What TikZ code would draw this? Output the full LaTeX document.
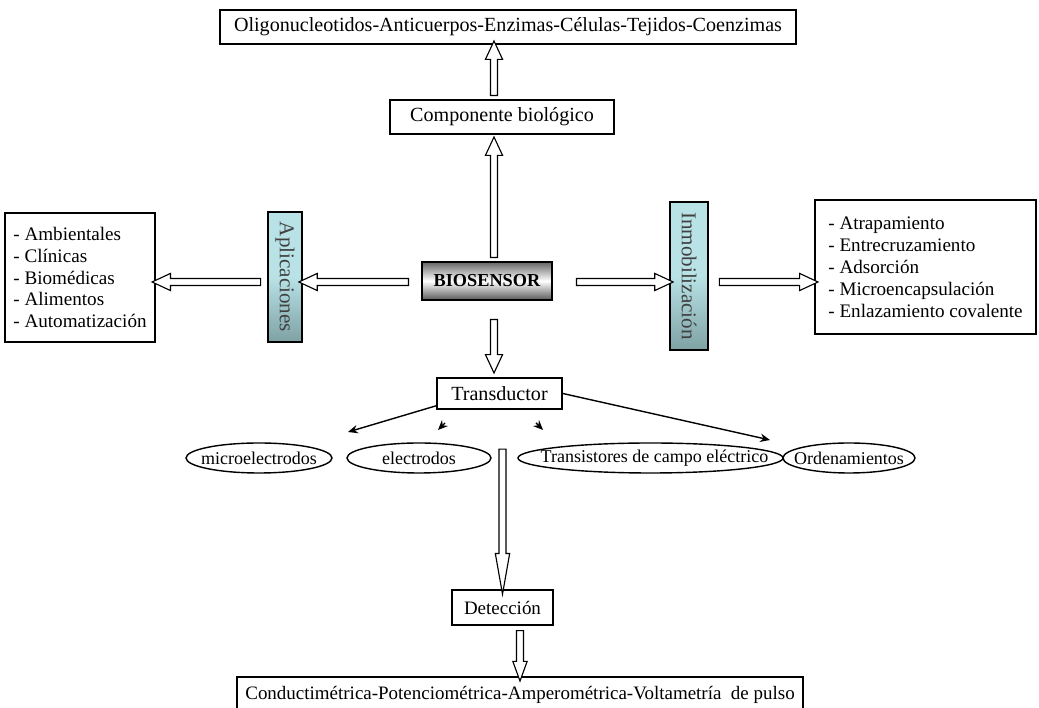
\documentclass[tikz,border=0pt]{standalone}
\usepackage{fontspec}
\setmainfont{Liberation Serif}
\usepackage{graphicx}
\usetikzlibrary{shapes,arrows.meta,positioning,calc}
\definecolor{tealpale}{RGB}{184,226,230}
\definecolor{tealdeep}{RGB}{88,118,120}

% hollow block arrow between two named points
\newcommand{\hollowarrow}[3][]{%
  \path let \p1=($(#3)-(#2)$), \n1={veclen(\x1,\y1)}, \n2={atan2(\y1,\x1)} in
    node[hollow, minimum height=\n1, rotate=\n2, #1] at ($(#2)!0.5!(#3)$) {};%
}
\newcommand{\zw}[1]{\makebox[0pt]{#1}}

\begin{document}
\begin{tikzpicture}[
    box/.style={draw, line width=1.1pt, minimum height=0.85cm, align=center, inner sep=2pt, font=\fontsize{14.3}{16}\selectfont},
    listbox/.style={draw, line width=1.1pt, align=left, inner xsep=6pt, font=\fontsize{13.6}{15.6}\selectfont},
    sidebar/.style={draw, line width=0.9pt, inner sep=0pt, top color=tealpale, bottom color=tealpale!40!tealdeep, middle color=tealpale, text=black!75, font=\fontsize{15}{17}\selectfont},
    oval/.style={ellipse, draw, line width=1pt, minimum height=0.75cm, inner sep=0pt, font=\fontsize{12.8}{14}\selectfont},
    hollow/.style={single arrow, draw, fill=white, line width=0.8pt, inner xsep=0pt, inner ysep=2.1pt, single arrow head extend=3.6pt, single arrow tip angle=50, single arrow head indent=0pt},
    link/.style={-{Stealth[length=7pt,width=6pt]}, line width=1pt}
]
\useasboundingbox (0,0) rectangle (25.975,17.7);

% Top row
\node[box, minimum width=14.4cm] (top) at (12.7,17.025) {Oligonucleotidos-Anticuerpos-Enzimas-Células-Tejidos-Coenzimas};
\node[box, minimum width=5.6cm] (comp) at (12.55,14.775) {Componente biológico};

% Center
\node[draw, line width=1pt, minimum width=3.25cm, minimum height=0.95cm, top color=black!60, bottom color=black!65, middle color=white, font=\bfseries\fontsize{13}{15}\selectfont] (bio) at (12.175,10.675) {BIOSENSOR};

% Left side
\node[sidebar, minimum width=0.85cm, minimum height=3.25cm] (aplic) at (7.125,10.775) {\rotatebox{-90}{Aplicaciones}};
\node[listbox, minimum width=3.6cm, minimum height=3.225cm] (usos) at (2.0,10.7625) {- Ambientales\\- Clínicas\\- Biomédicas\\- Alimentos\\- Automatización};

% Right side
\node[sidebar, minimum width=0.95cm, minimum height=3.7cm] (inmob) at (17.225,10.8) {\rotatebox{-90}{Inmobilización}};
\node[listbox, minimum width=5.525cm, minimum height=3.35cm] (metodos) at (23.1375,11.025) {- Atrapamiento\\- Entrecruzamiento\\- Adsorción\\- Microencapsulación\\- Enlazamiento covalente};

% Transducer and its kinds
\node[box, minimum width=3.125cm, minimum height=0.775cm] (trans) at (12.4875,7.8625) {Transductor};
\node[oval, minimum width=3.65cm] (micro) at (6.475,6.25) {\zw{microelectrodos}};
\node[oval, minimum width=3.6cm] (elec) at (10.475,6.25) {\zw{electrodos}};
\node[oval, minimum width=6.625cm] (fet) at (16.2625,6.25) {\zw{\hspace{0.2cm}Transistores de campo eléctrico}};
\node[oval, minimum width=3.3cm] (orden) at (21.225,6.25) {\zw{Ordenamientos}};

% Detection
\node[box, minimum width=2.525cm, minimum height=0.875cm, font=\fontsize{13.5}{15}\selectfont] (det) at (12.5625,2.5125) {Detección};
\node[box, minimum width=14.15cm, minimum height=0.875cm, font=\fontsize{13.5}{15}\selectfont] (tecnicas) at (13.0,0.3375) {Conductimétrica-Potenciométrica-Amperométrica-Voltametría\ \ de pulso};

% Block arrows
\coordinate (u1) at ([xshift=-2mm]comp.north);
\coordinate (u2) at (u1 |- top.south);
\hollowarrow{u1}{u2}
\coordinate (u3) at (u1 |- bio.north);
\coordinate (u4) at ($(u1 |- comp.south)+(0,-0.15)$);
\hollowarrow{u3}{u4}
\coordinate (d1) at ($(u1 |- bio.south)+(0,-0.375)$);
\coordinate (d2) at ($(u1 |- trans.north)+(0,0.2)$);
\hollowarrow{d1}{d2}

\coordinate (h1) at ($(bio.west)+(-0.225,-0.025)$);
\coordinate (h2) at (h1 -| aplic.east);
\hollowarrow{h1}{h2}
\coordinate (h3) at ($(h1 -| aplic.west)+(-0.075,0)$);
\coordinate (h4) at (h1 -| usos.east);
\hollowarrow{h3}{h4}
\coordinate (h5) at ($(bio.east)+(0.5,-0.025)$);
\coordinate (h6) at (h5 -| inmob.west);
\hollowarrow{h5}{h6}
\coordinate (h7) at ($(h5 -| inmob.east)+(0.175,0)$);
\coordinate (h8) at (h5 -| metodos.west);
\hollowarrow{h7}{h8}

\coordinate (l1) at ($(det.north)+(0,3.75)$);
\coordinate (l2) at ($(det.north)+(0,0.125)$);
\hollowarrow[single arrow tip angle=20, single arrow head extend=2.6pt]{l1}{l2}
\coordinate (l3) at (det.south -| tecnicas.north);
\hollowarrow[single arrow tip angle=40, single arrow head extend=2.6pt]{l3}{tecnicas.north}

% Thin arrows from the transducer
\coordinate (t1) at (8.7,6.9);
\coordinate (t2) at (11.125,7.125);
\coordinate (t3) at (10.95,6.95);
\coordinate (t4) at (13.4,7.125);
\coordinate (t5) at (13.575,6.95);
\coordinate (t6) at (19.25,6.7);
\draw[link] ($(trans.south west)+(0,0.1)$) -- (t1);
\draw[link] (t2) -- (t3);
\draw[link] (t4) -- (t5);
\draw[link] (trans.east) -- (t6);

\end{tikzpicture}
\end{document}
